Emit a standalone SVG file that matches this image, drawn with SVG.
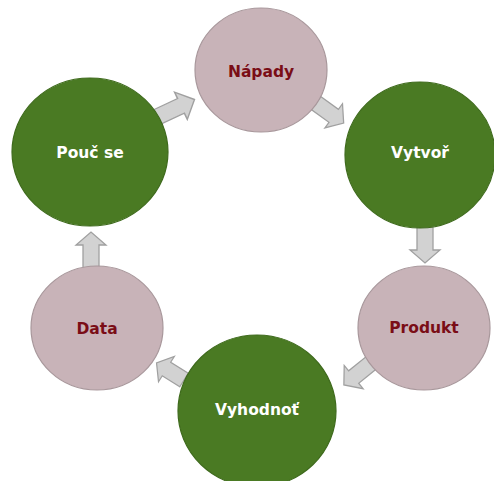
<svg xmlns="http://www.w3.org/2000/svg" width="494" height="481" viewBox="0 0 494 481">
<style>
.pink{fill:#c8b3b8;stroke:#a8979b;stroke-width:1.2}
.green{fill:#4a7a23;stroke:#3e6a1c;stroke-width:1.2}
.arrow{fill:#d2d2d2;stroke:#a0a0a0;stroke-width:1.3;stroke-linejoin:miter}
text{font-family:"DejaVu Sans",Verdana,sans-serif;font-weight:bold;font-size:15.5px;text-anchor:middle;dominant-baseline:central}
.tp{fill:#7a0d16}
.tg{fill:#ffffff}
</style>
<defs>
<path id="arr" d="M0,-8 H23 V-15 L36,0 L23,15 V8 H0 Z"/>
</defs>
<g id="connectors">
<use href="#arr" class="arrow" transform="translate(157,117) rotate(-25) scale(1.15,1)"/>
<use href="#arr" class="arrow" transform="translate(316,103) rotate(36) scale(0.95,1)"/>
<use href="#arr" class="arrow" transform="translate(425,227) rotate(90)"/>
<use href="#arr" class="arrow" transform="translate(371,363) rotate(141) scale(0.97,1)"/>
<use href="#arr" class="arrow" transform="translate(184,380) rotate(212) scale(0.9,1)"/>
<use href="#arr" class="arrow" transform="translate(91,268) rotate(-90)"/>
</g>
<g id="napady"><ellipse class="pink" cx="261" cy="70" rx="66" ry="62"/><text class="tp" x="261" y="72">Nápady</text></g>
<g id="vytvor"><ellipse class="green" cx="420" cy="155" rx="75" ry="73"/><text class="tg" x="420" y="153">Vytvoř</text></g>
<g id="produkt"><ellipse class="pink" cx="424" cy="328" rx="66" ry="62"/><text class="tp" x="424" y="328">Produkt</text></g>
<g id="vyhodnot"><ellipse class="green" cx="257" cy="411" rx="79" ry="76"/><text class="tg" x="257" y="410">Vyhodnoť</text></g>
<g id="data"><ellipse class="pink" cx="97" cy="328" rx="66" ry="62"/><text class="tp" x="97" y="329">Data</text></g>
<g id="pouc"><ellipse class="green" cx="90" cy="152" rx="78" ry="74"/><text class="tg" x="90" y="153">Pouč se</text></g>
</svg>
